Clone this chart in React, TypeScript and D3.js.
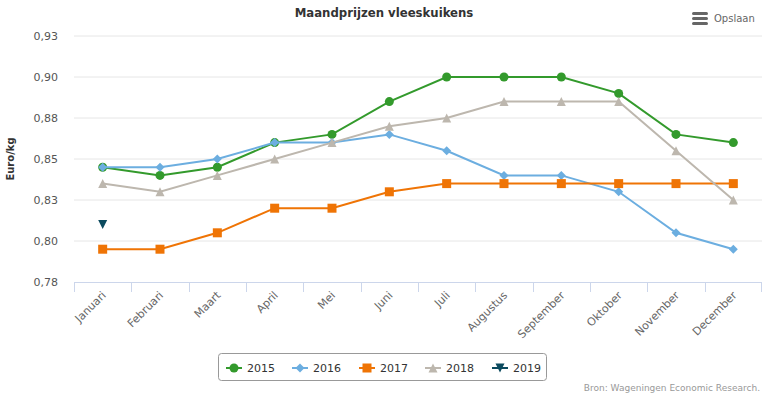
import React from "react";
import * as d3 from "d3";

const months = ["Januari","Februari","Maart","April","Mei","Juni","Juli","Augustus","September","Oktober","November","December"];
const v2015 = [0.845,0.840,0.845,0.860,0.865,0.885,0.900,0.900,0.900,0.890,0.865,0.860];
const v2016 = [0.845,0.845,0.850,0.860,0.860,0.865,0.855,0.840,0.840,0.830,0.805,0.795];
const v2017 = [0.795,0.795,0.805,0.820,0.820,0.830,0.835,0.835,0.835,0.835,0.835,0.835];
const v2018 = [0.835,0.830,0.840,0.850,0.860,0.870,0.875,0.885,0.885,0.885,0.855,0.825];
const v2019 = [0.810,null,null,null,null,null,null,null,null,null,null,null];
const yTicks = [0.775,0.8,0.825,0.85,0.875,0.9,0.925];
const seriesNames = ["2015","2016","2017","2018","2019"];
const seriesColors = ["#339a2c","#6caee0","#ef7405","#bdb7ae","#0b4a5e"];
const seriesSymbols = ["circle","diamond","square","triangle","triangle-down"];

const W = 768, H = 396;
const L = 74, R = 762, T = 36, B = 282;

function Marker({ type, x, y, color }: { type: string; x: number; y: number; color: string }) {
  if (type === "circle") return <circle cx={x} cy={y} r={4.5} fill={color} />;
  if (type === "square") return <rect x={x - 4.5} y={y - 4.5} width={9} height={9} fill={color} />;
  if (type === "diamond") return <path d={`M${x},${y - 4.5}L${x + 4.5},${y}L${x},${y + 4.5}L${x - 4.5},${y}Z`} fill={color} />;
  if (type === "triangle") return <path d={`M${x},${y - 4.5}L${x + 4.5},${y + 4.5}L${x - 4.5},${y + 4.5}Z`} fill={color} />;
  return <path d={`M${x - 4.5},${y - 4.5}L${x + 4.5},${y - 4.5}L${x},${y + 4.5}Z`} fill={color} />;
}

export default function App() {
  const x = d3.scaleBand().domain(months).range([L, R]);
  const y = d3.scaleLinear().domain([0.775, 0.925]).range([B, T]);
  const data = [v2015, v2016, v2017, v2018, v2019];
  const line = d3.line<number | null>()
    .defined(d => d != null)
    .x((_, i) => (x(months[i]) as number) + x.bandwidth() / 2)
    .y(d => y(d as number));
  const fmt = (v: number) => (Math.round(v * 100 + 1e-6) / 100).toFixed(2).replace(".", ",");
  const font = "Verdana, 'DejaVu Sans', sans-serif";
  const legendX = [226, 292, 359, 425, 492];

  return (
    <svg width={W} height={H} style={{ position: "absolute", left: 0, top: 0, fontFamily: font }}>
      <rect width={W} height={H} fill="#fff" />
      <text x={384} y={17} textAnchor="middle" fontFamily="'DejaVu Sans Condensed', 'Liberation Sans Narrow', sans-serif" fontWeight="bold" fontSize={13} fill="#333">Maandprijzen vleeskuikens</text>
      <g fill="#666">
        <rect x={692} y={12} width={16} height={3} rx={1.5} />
        <rect x={692} y={17} width={16} height={3} rx={1.5} />
        <rect x={692} y={22} width={16} height={3} rx={1.5} />
      </g>
      <text x={714} y={22} fontSize={10} fill="#666">Opslaan</text>

      {yTicks.map(t => (
        <g key={t}>
          {t !== 0.775 && <line x1={L} x2={R} y1={y(t)} y2={y(t)} stroke="#e6e6e6" strokeWidth={1} />}
          <text x={58} y={y(t) + 4} textAnchor="end" fontSize={11} fill="#555">{fmt(t)}</text>
        </g>
      ))}
      <text transform={`translate(14,${(T + B) / 2}) rotate(-90)`} textAnchor="middle" fontSize={10} fontWeight="bold" fill="#333">Euro/kg</text>

      <line x1={L} x2={R} y1={B + 0.5} y2={B + 0.5} stroke="#ccd6eb" strokeWidth={1} />
      {months.map(m => (
        <line key={m} x1={Math.round(x(m) as number) + 0.5} x2={Math.round(x(m) as number) + 0.5} y1={B} y2={B + 10} stroke="#ccd6eb" />
      ))}
      <line x1={R - 0.5} x2={R - 0.5} y1={B} y2={B + 10} stroke="#ccd6eb" />
      {months.map(m => {
        const cx = (x(m) as number) + x.bandwidth() / 2;
        return (
          <text key={m} transform={`translate(${cx + 4},${B + 14}) rotate(-45)`} textAnchor="end" fontSize={11} fill="#666">{m}</text>
        );
      })}

      {data.map((vals, si) => (
        <g key={si}>
          <path d={line(vals) || ""} fill="none" stroke={seriesColors[si]} strokeWidth={2} />
          {vals.map((v, i) => v == null ? null : (
            <Marker key={i} type={seriesSymbols[si]} x={(x(months[i]) as number) + x.bandwidth() / 2} y={y(v)} color={seriesColors[si]} />
          ))}
        </g>
      ))}

      <rect x={218.5} y={353.5} width={328} height={27} rx={3} fill="none" stroke="#999" />
      {seriesNames.map((n, i) => (
        <g key={n}>
          <line x1={legendX[i]} x2={legendX[i] + 16} y1={368} y2={368} stroke={seriesColors[i]} strokeWidth={2} />
          <Marker type={seriesSymbols[i]} x={legendX[i] + 8} y={368} color={seriesColors[i]} />
          <text x={legendX[i] + 21} y={372} fontSize={11} fill="#333">{n}</text>
        </g>
      ))}
      <text x={760} y={391} textAnchor="end" fontSize={9} fill="#999">Bron: Wageningen Economic Research.</text>
    </svg>
  );
}
